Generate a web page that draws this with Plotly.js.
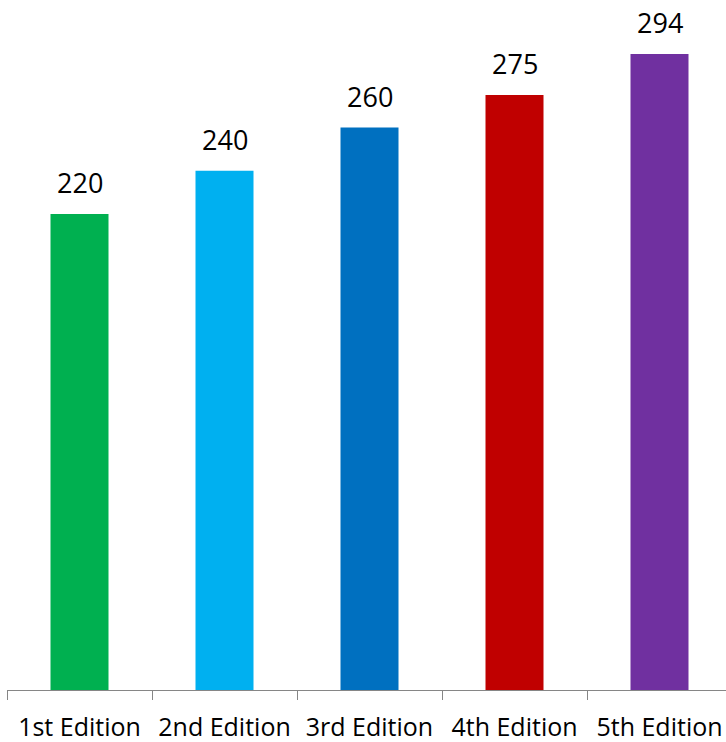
<!DOCTYPE html>
<html>
<head>
<meta charset="utf-8">
<script src="https://cdn.plot.ly/plotly-3.0.1.min.js"></script>
<style>html,body{margin:0;padding:0;background:#fff;}#chart{width:726px;height:742px;}</style>
</head>
<body>
<div id="chart"></div>
<script>
const categories = ["1st Edition", "2nd Edition", "3rd Edition", "4th Edition", "5th Edition"];
const values = [220, 240, 260, 275, 294];
const colors = ["#00B050", "#00B0F0", "#0070C0", "#C00000", "#7030A0"];

const FONT = "Open Sans, Liberation Sans, sans-serif";

const trace = {
  type: "bar",
  x: categories,
  y: values,
  width: 0.4,
  marker: {color: colors},
  hoverinfo: "none"
};

const annotations = categories.map((c, i) => ({
  x: c, y: values[i], xref: "x", yref: "y",
  text: String(values[i]),
  showarrow: false,
  yanchor: "bottom",
  yshift: 11,
  font: {family: FONT, size: 27, color: "#000"}
}));

const layout = {
  width: 726, height: 742,
  margin: {l: 7, r: 0, t: 20, b: 52},
  paper_bgcolor: "#fff", plot_bgcolor: "#fff",
  showlegend: false,
  xaxis: {
    type: "category",
    range: [-0.5, -0.5 + 719 / 145],
    tickson: "boundaries",
    ticks: "outside", ticklen: 9, tickcolor: "#868686", tickwidth: 1,
    showline: true, linecolor: "#868686", linewidth: 1,
    showgrid: false, zeroline: false,
    tickangle: 0,
    tickfont: {family: FONT, size: 25, color: "#000"},
    ticklabelstandoff: 15
  },
  yaxis: {
    range: [0, 309.7],
    visible: false, showgrid: false, zeroline: false
  },
  annotations: annotations
};

Plotly.newPlot("chart", [trace], layout, {staticPlot: true, displayModeBar: false});
</script>
</body>
</html>
